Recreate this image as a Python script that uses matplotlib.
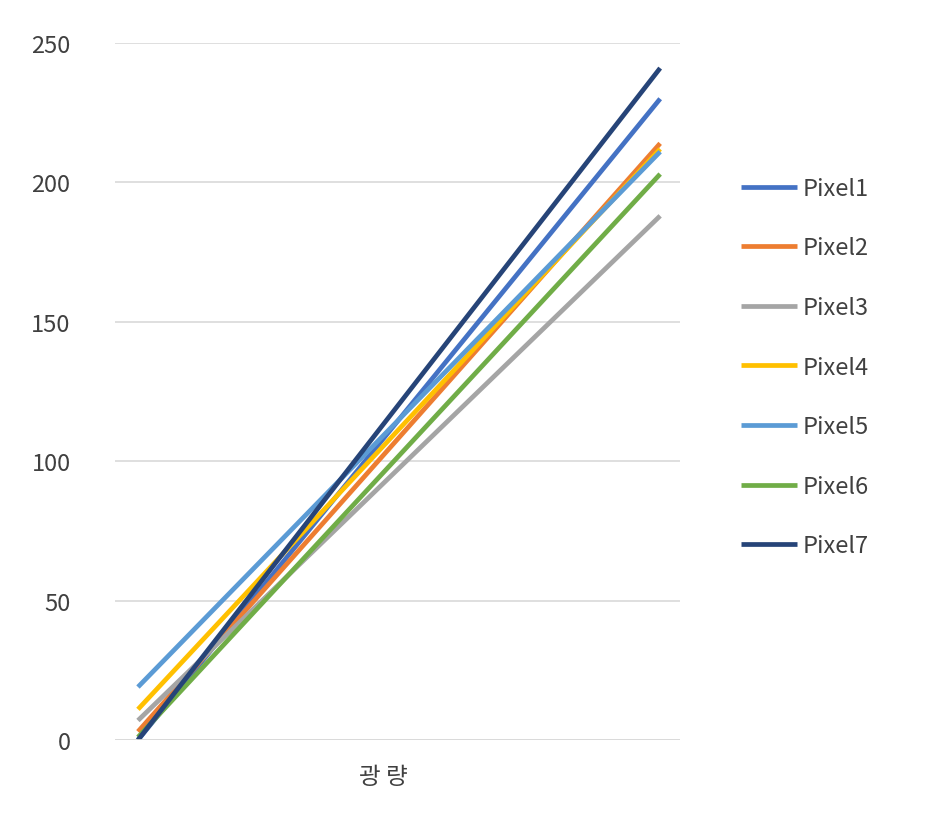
import matplotlib.pyplot as plt

plt.rcParams['font.family'] = ['Noto Sans CJK KR', 'DejaVu Sans']

x_vals = [0, 1]
series_names = ['Pixel1', 'Pixel2', 'Pixel3', 'Pixel4', 'Pixel5', 'Pixel6', 'Pixel7']
start_vals = [0, 3, 7, 11, 19, 1, 0]
end_vals = [230, 214, 188, 212, 211, 203, 241]
colors = ['#4472C4', '#ED7D31', '#A5A5A5', '#FFC000', '#5B9BD5', '#70AD47', '#264478']

fig = plt.figure(figsize=(9.32, 8.2), dpi=100)
ax = fig.add_axes([115/932, 1-741/820, 565/932, 697/820])

for name, s, e, c in zip(series_names, start_vals, end_vals, colors):
    ax.plot(x_vals, [s, e], color=c, lw=3.4, label=name, solid_capstyle='butt')

ax.set_xlim(-0.044, 1.038)
ax.set_ylim(0, 250)
ax.set_yticks(range(0, 251, 50))
ax.yaxis.grid(True, color='#D9D9D9', lw=1.2)
ax.set_axisbelow(True)
ax.set_xticks([0.47])
ax.set_xticklabels(['광 량'])
ax.tick_params(length=0, labelsize=17, colors='#404040', pad=18)
ax.tick_params(axis='y', pad=32)
for sp in ax.spines.values():
    sp.set_visible(False)
ax.axhline(0, color='#D9D9D9', lw=1.2)

ax.legend(loc='center left', bbox_to_anchor=(1.07, 0.535), frameon=False,
          fontsize=17, handlelength=2.4, labelspacing=1.55, handletextpad=0.2,
          labelcolor='#404040')

fig.savefig('out.png', dpi=100)
